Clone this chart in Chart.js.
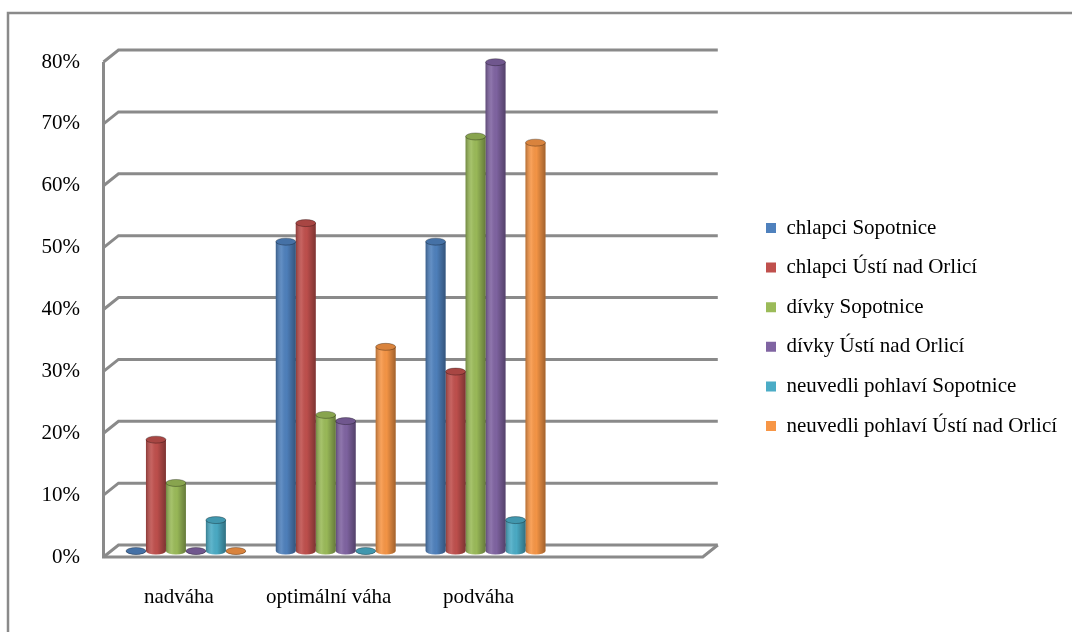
<!DOCTYPE html>
<html>
<head>
<meta charset="utf-8">
<script src="https://cdn.jsdelivr.net/npm/chart.js@4.4.1/dist/chart.umd.min.js"></script>
<style>
    html, body { margin: 0; padding: 0; background: #fff; }
    canvas { display: block; }
</style>
</head>
<body>
<canvas id="canvas" width="1072" height="632"></canvas>
<script>
// categories (the 4th one is empty in the original, it only keeps the floor space)
const categories = ['nadváha', 'optimální váha', 'podváha', ''];

// values in %
const chlapciSopotnice = [0, 50, 50];
const chlapciUsti = [18, 53, 29];
const divkySopotnice = [11, 22, 67];
const divkyUsti = [0, 21, 79];
const neuvedliSopotnice = [5, 0, 5];
const neuvedliUsti = [0, 33, 66];

const seriesNames = [
    'chlapci Sopotnice',
    'chlapci Ústí nad Orlicí',
    'dívky Sopotnice',
    'dívky Ústí nad Orlicí',
    'neuvedli pohlaví Sopotnice',
    'neuvedli pohlaví Ústí nad Orlicí'
];
const seriesValues = [chlapciSopotnice, chlapciUsti, divkySopotnice, divkyUsti, neuvedliSopotnice, neuvedliUsti];
const seriesColors = ['#4F81BD', '#C0504D', '#9BBB59', '#8064A2', '#4BACC6', '#F79646'];

const yMax = 80;
const yStep = 10;

const FONT = { family: "'Liberation Serif', 'Times New Roman', serif", size: 21 };
const GRID_COLOR = '#8a8a8a';
const DEPTH_X = 7.5;   // half of the 3D depth offset
const DEPTH_Y = 6;
const LEGEND_BOX_X = 766;
const LEGEND_Y_SHIFT = -17;

// outer frame of the chart object
const framePlugin = {
    id: 'frame',
    beforeDraw(chart) {
        const ctx = chart.ctx;
        ctx.save();
        ctx.strokeStyle = GRID_COLOR;
        ctx.lineWidth = 2.5;
        ctx.beginPath();
        ctx.moveTo(8, chart.height + 5);
        ctx.lineTo(8, 13);
        ctx.lineTo(chart.width + 5, 13);
        ctx.stroke();
        ctx.restore();
    }
};

// fake 3D back wall + floor, built from the y scale ticks
const wallPlugin = {
    id: 'wall',
    beforeDatasetsDraw(chart) {
        const { ctx, chartArea, scales } = chart;
        const { left, right, top, bottom } = chartArea;
        ctx.save();
        ctx.strokeStyle = GRID_COLOR;
        ctx.lineWidth = 3;
        scales.y.ticks.forEach(t => {
            const y = scales.y.getPixelForValue(t.value);
            ctx.beginPath();
            ctx.moveTo(left - DEPTH_X, y + DEPTH_Y);
            ctx.lineTo(left + DEPTH_X, y - DEPTH_Y);
            ctx.lineTo(right + DEPTH_X, y - DEPTH_Y);
            ctx.stroke();
        });
        // front left edge and floor
        ctx.beginPath();
        ctx.moveTo(left - DEPTH_X, top + DEPTH_Y);
        ctx.lineTo(left - DEPTH_X, bottom + DEPTH_Y);
        ctx.lineTo(right - DEPTH_X, bottom + DEPTH_Y);
        ctx.lineTo(right + DEPTH_X, bottom - DEPTH_Y);
        ctx.stroke();
        ctx.restore();
    }
};

// cylinder look for the bars
function cylinderGradient(ctx, x0, x1) {
    const g = ctx.createLinearGradient(x0, 0, x1, 0);
    g.addColorStop(0, 'rgba(0,0,0,0.28)');
    g.addColorStop(0.3, 'rgba(255,255,255,0.10)');
    g.addColorStop(0.55, 'rgba(0,0,0,0.02)');
    g.addColorStop(1, 'rgba(0,0,0,0.35)');
    return g;
}

const cylinderPlugin = {
    id: 'cylinder',
    afterDatasetsDraw(chart) {
        const ctx = chart.ctx;
        ctx.save();
        chart.data.datasets.forEach((ds, i) => {
            const meta = chart.getDatasetMeta(i);
            meta.data.forEach(el => {
                if (el.skip || isNaN(el.y)) return;
                const half = el.width / 2;
                const x0 = el.x - half, x1 = el.x + half;
                const top = Math.min(el.y, el.base);
                const ry = 3.5;
                const grad = cylinderGradient(ctx, x0, x1);

                // rounded bottom
                ctx.beginPath();
                ctx.ellipse(el.x, el.base, half, ry, 0, 0, Math.PI);
                ctx.fillStyle = ds.backgroundColor;
                ctx.fill();
                ctx.fillStyle = grad;
                ctx.fill();

                // body shading
                if (el.base - top > 0) {
                    ctx.fillStyle = grad;
                    ctx.fillRect(x0, top, el.width, el.base - top);
                }

                // top cap
                ctx.beginPath();
                ctx.ellipse(el.x, top, half, ry, 0, 0, Math.PI * 2);
                ctx.fillStyle = ds.backgroundColor;
                ctx.fill();
                ctx.fillStyle = 'rgba(0,0,0,0.12)';
                ctx.fill();
                ctx.strokeStyle = 'rgba(0,0,0,0.3)';
                ctx.lineWidth = 1;
                ctx.stroke();
            });
        });
        ctx.restore();
    }
};

// move the legend column to where the original has it
const legendPlacePlugin = {
    id: 'legendPlace',
    afterLayout(chart) {
        const lg = chart.legend;
        if (!lg) return;
        const shift = LEGEND_BOX_X - lg.options.labels.padding - lg.left;
        lg.left += shift;
        lg.right += shift;
        lg.top += LEGEND_Y_SHIFT;
        lg.bottom += LEGEND_Y_SHIFT;
    }
};

const datasets = seriesNames.map((name, i) => ({
    label: name,
    data: seriesValues[i],
    backgroundColor: seriesColors[i],
    borderWidth: 0,
    categoryPercentage: 0.8,
    barPercentage: 1.0
}));

new Chart(document.getElementById('canvas'), {
    type: 'bar',
    data: {
        labels: categories,
        datasets: datasets
    },
    options: {
        responsive: false,
        animation: false,
        devicePixelRatio: 1,
        layout: {
            padding: { top: 56, bottom: 0, left: 0, right: 42 }
        },
        plugins: {
            tooltip: { enabled: false },
            legend: {
                position: 'right',
                align: 'center',
                maxWidth: 420,
                labels: {
                    font: FONT,
                    color: '#000',
                    boxWidth: 10,
                    boxHeight: 10,
                    padding: 18.6
                }
            }
        },
        scales: {
            x: {
                grid: { display: false, drawTicks: false },
                border: { display: false },
                ticks: {
                    font: FONT,
                    color: '#000',
                    padding: 34,
                    labelOffset: -7,
                    maxRotation: 0,
                    autoSkip: false
                },
                afterFit(scale) { scale.height = 81; }
            },
            y: {
                min: 0,
                max: yMax,
                grid: { display: false, drawTicks: false },
                border: { display: false },
                ticks: {
                    stepSize: yStep,
                    font: FONT,
                    color: '#000',
                    padding: 31,
                    labelOffset: DEPTH_Y,
                    callback: v => v + '%'
                },
                afterFit(scale) { scale.width = 111; }
            }
        }
    },
    plugins: [framePlugin, wallPlugin, cylinderPlugin, legendPlacePlugin]
});
</script>
</body>
</html>
